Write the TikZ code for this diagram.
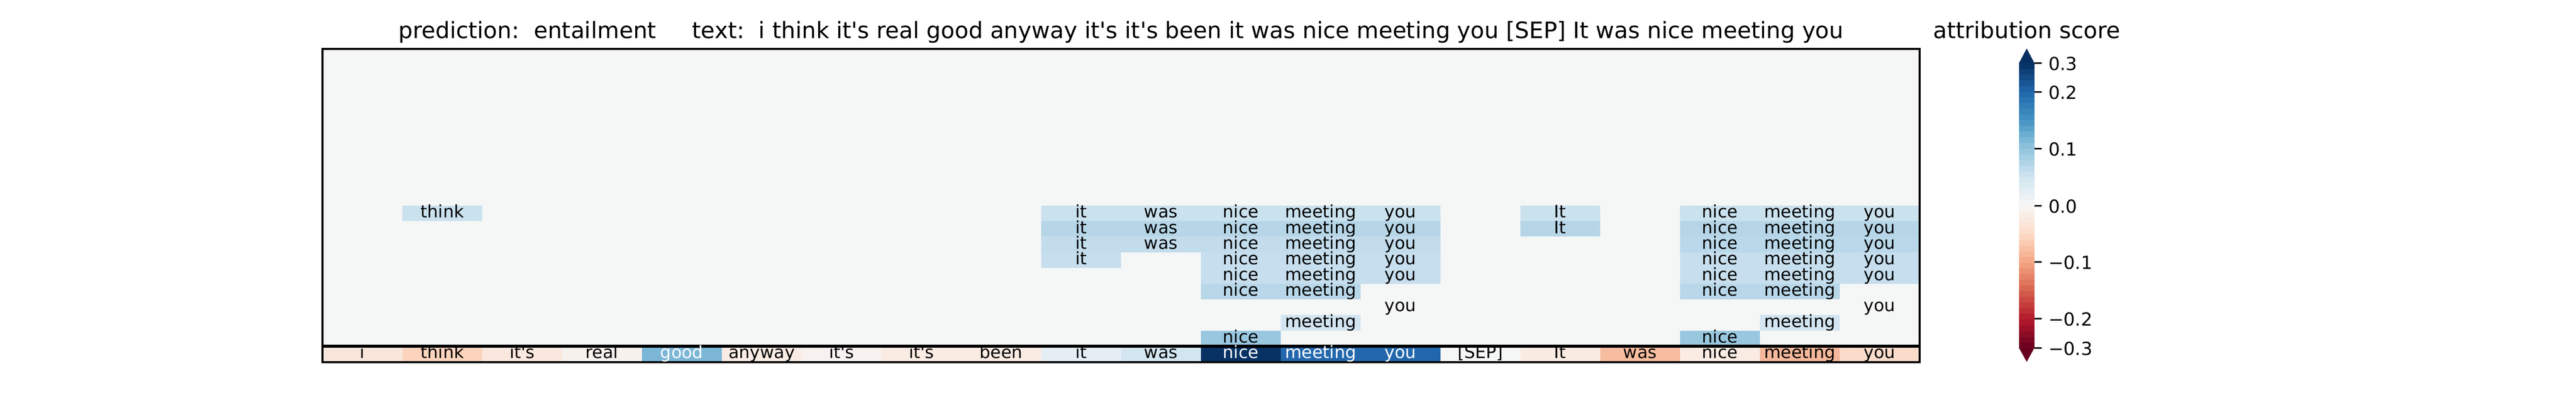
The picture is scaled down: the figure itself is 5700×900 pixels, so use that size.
\documentclass[tikz,border=0pt]{standalone}
\usepackage{fontspec}
\newfontfamily\dv{DejaVu Sans}
\definecolor{bgc}{RGB}{245,246,246}
\definecolor{cA}{HTML}{CAE1EE}
\definecolor{cB}{HTML}{B6D6E8}
\definecolor{cC}{HTML}{C3DCEC}
\definecolor{cBB}{HTML}{B9D8E9}
\definecolor{cD}{HTML}{C6DEED}
\definecolor{cE}{HTML}{B8D7E9}
\definecolor{cF}{HTML}{D3E5F1}
\definecolor{cG}{HTML}{99C7E0}
\definecolor{k0}{HTML}{F9E6DB}
\definecolor{k1}{HTML}{FCD4BD}
\definecolor{k2}{HTML}{FAE8DF}
\definecolor{k3}{HTML}{F7F1EE}
\definecolor{k4}{HTML}{7BB6D6}
\definecolor{k5}{HTML}{FAECE5}
\definecolor{k6}{HTML}{F7F2F0}
\definecolor{k7}{HTML}{FAEBE3}
\definecolor{k8}{HTML}{FAEBE3}
\definecolor{k9}{HTML}{E5EEF5}
\definecolor{k10}{HTML}{D2E5F1}
\definecolor{k11}{HTML}{073263}
\definecolor{k12}{HTML}{2368AD}
\definecolor{k13}{HTML}{2267AC}
\definecolor{k14}{HTML}{F5F6F6}
\definecolor{k15}{HTML}{FAEBE2}
\definecolor{k16}{HTML}{F7BDA1}
\definecolor{k17}{HTML}{FAEBE3}
\definecolor{k18}{HTML}{F6B89B}
\definecolor{k19}{HTML}{FBDCCB}
\definecolor{rb0}{RGB}{103,0,31}
\definecolor{rb1}{RGB}{178,24,43}
\definecolor{rb2}{RGB}{214,96,77}
\definecolor{rb3}{RGB}{244,165,130}
\definecolor{rb4}{RGB}{253,219,199}
\definecolor{rb5}{RGB}{247,247,247}
\definecolor{rb6}{RGB}{209,229,240}
\definecolor{rb7}{RGB}{146,197,222}
\definecolor{rb8}{RGB}{67,147,195}
\definecolor{rb9}{RGB}{33,102,172}
\definecolor{rb10}{RGB}{5,48,97}
\begin{document}
\begin{tikzpicture}[x=0.25pt,y=-0.25pt,
  lbl/.style={font=\dv\fontsize{9.5}{11}\selectfont, inner sep=0pt, anchor=base},
  cbl/.style={font=\dv\fontsize{10}{12}\selectfont, inner sep=0pt, anchor=base west},
  ttl/.style={font=\dv\fontsize{12.5}{15}\selectfont, inner sep=0pt, anchor=base},
  frame/.style={line width=1.1pt, black},
  cbtick/.style={line width=0.85pt, black}]
\useasboundingbox (0,0) rectangle (5700,900);
\def\xo{713.7}\def\cw{176.68}\def\yo{108.3}\def\rh{34.62}
% titles
\node[ttl] (title) at (2480.5,85) {prediction:\ \ entailment\ \ \ \ \ text:\ \ i think it's real good anyway it's it's been it was nice meeting you [SEP] It was nice meeting you};
\node[ttl] (cbtitle) at (4484.5,85) {attribution score};
% upper heatmap
\fill[bgc] (\xo,\yo) rectangle (4247.3,766.1);
\foreach \r/\c/\col/\w in {
  10/1/cA/think,10/9/cA/it,10/10/cA/was,10/11/cA/nice,10/12/cA/meeting,10/13/cA/you,
  10/15/cA/It,10/17/cA/nice,10/18/cA/meeting,10/19/cA/you,
  11/9/cB/it,11/10/cB/was,11/11/cB/nice,11/12/cB/meeting,11/13/cB/you,
  11/15/cB/It,11/17/cB/nice,11/18/cB/meeting,11/19/cB/you,
  12/9/cC/it,12/10/cC/was,12/11/cC/nice,12/12/cC/meeting,12/13/cC/you,
  12/17/cBB/nice,12/18/cBB/meeting,12/19/cBB/you,
  13/9/cD/it,13/11/cD/nice,13/12/cD/meeting,13/13/cD/you,
  13/17/cD/nice,13/18/cD/meeting,13/19/cD/you,
  14/11/cD/nice,14/12/cD/meeting,14/13/cD/you,
  14/17/cD/nice,14/18/cD/meeting,14/19/cD/you,
  15/11/cE/nice,15/12/cE/meeting,15/17/cE/nice,15/18/cE/meeting,
  16/13/bgc/you,16/19/bgc/you,
  17/12/cF/meeting,17/18/cF/meeting,
  18/11/cG/nice,18/17/cG/nice}{
  \fill[\col] ({\xo+\c*\cw},{\yo+\r*\rh}) rectangle ({\xo+(\c+1)*\cw},{\yo+(\r+1)*\rh});
  \node[lbl] (u\r-\c) at ({\xo+(\c+0.5)*\cw},{\yo+(\r+0.5)*\rh+10}) {\w};
}
% token row cells
\foreach \c in {0,...,19}{
  \fill[k\c] ({\xo+\c*\cw},766) rectangle ({\xo+(\c+1)*\cw},801.3);
}
% frame
\draw[frame] (\xo,\yo) rectangle (4247.3,801.3);
\draw[line width=1.7pt] (\xo,766) -- (4247.3,766);
% token texts
\foreach \c/\tc/\w in {0/black/i,1/black/think,2/black/it's,3/black/real,4/white/good,
  5/black/anyway,6/black/it's,7/black/it's,8/black/been,9/black/it,10/black/was,
  11/white/nice,12/white/meeting,13/white/you,14/black/{[SEP]},15/black/It,
  16/black/was,17/black/nice,18/black/meeting,19/black/you}{
  \node[lbl, text=\tc] (t\c) at ({\xo+(\c+0.5)*\cw},793.3) {\w};
}
% colorbar
\foreach \i in {0,...,49}{
  \pgfmathtruncatemacro{\cbk}{int((2*\i+1)/10)}
  \pgfmathtruncatemacro{\cbkk}{\cbk+1}
  \pgfmathtruncatemacro{\cbp}{100*\cbk+90-20*\i}
  \pgfmathsetmacro{\cbya}{770-\i*12.614+0.4}
  \pgfmathsetmacro{\cbyb}{770-\i*12.614-13.014}
  \fill[rb\cbk!\cbp!rb\cbkk] (4467.3,\cbya) rectangle (4501.7,\cbyb);
}
\fill[rb10] (4467.3,139.8) -- (4484.5,107.3) -- (4501.7,139.8) -- cycle;
\fill[rb0] (4467.3,769.5) -- (4484.5,800.7) -- (4501.7,769.5) -- cycle;
\foreach \y/\l [count=\n] in {139.3/0.3,204/0.2,329/0.1,455/0.0,580/−0.1,705/−0.2,770/−0.3}{
  \draw[cbtick] (4501.7,\y) -- (4517.5,\y);
  \node[cbl] (cb\n) at (4532,{\y+16}) {\l};
}
\end{tikzpicture}
\end{document}
